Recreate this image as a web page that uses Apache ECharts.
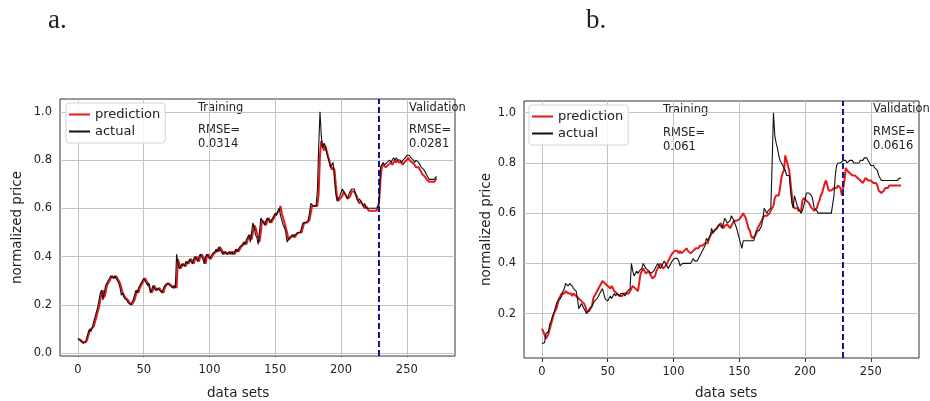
<!DOCTYPE html>
<html>
<head>
<meta charset="utf-8">
<title>prediction vs actual</title>
<script src="https://cdn.jsdelivr.net/npm/echarts@6/dist/echarts.min.js"></script>
<style>
  html, body { margin: 0; padding: 0; background: #fff; }
  #main { width: 930px; height: 401px; }
</style>
</head>
<body>
<div id="main"></div>
<script>
// x ticks / y ticks
var xTicks = [0, 50, 100, 150, 200, 250]
var yTicksA = [0, 0.2, 0.4, 0.6, 0.8, 1.0]
var yTicksB = [0.2, 0.4, 0.6, 0.8, 1.0]
// train / validation split
var splitAt = 229

// a. prediction
var aPred = [
  0.06, 0.06, 0.055, 0.05, 0.045, 0.04, 0.045, 0.055, 0.075, 0.09,
  0.10, 0.095, 0.11, 0.13, 0.15, 0.17, 0.19, 0.22, 0.25, 0.26,
  0.23, 0.25, 0.28, 0.29, 0.30, 0.31, 0.32, 0.32, 0.31, 0.32,
  0.31, 0.30, 0.29, 0.27, 0.25, 0.25, 0.23, 0.23, 0.22, 0.21,
  0.21, 0.20, 0.20, 0.22, 0.24, 0.26, 0.25, 0.27, 0.28, 0.29,
  0.30, 0.31, 0.30, 0.29, 0.28, 0.28, 0.25, 0.26, 0.28, 0.27,
  0.26, 0.26, 0.27, 0.26, 0.26, 0.25, 0.27, 0.28, 0.28, 0.29,
  0.29, 0.28, 0.28, 0.27, 0.28, 0.27, 0.39, 0.37, 0.35, 0.36,
  0.37, 0.37, 0.36, 0.38, 0.37, 0.38, 0.39, 0.38, 0.37, 0.39,
  0.40, 0.39, 0.38, 0.40, 0.41, 0.40, 0.39, 0.37, 0.40, 0.41,
  0.40, 0.39, 0.40, 0.41, 0.41, 0.42, 0.43, 0.42, 0.44, 0.43,
  0.42, 0.41, 0.42, 0.42, 0.41, 0.41, 0.42, 0.41, 0.42, 0.41,
  0.42, 0.43, 0.42, 0.43, 0.44, 0.44, 0.45, 0.46, 0.45, 0.47,
  0.48, 0.49, 0.47, 0.50, 0.53, 0.52, 0.50, 0.48, 0.46, 0.50,
  0.55, 0.55, 0.54, 0.53, 0.55, 0.56, 0.55, 0.54, 0.55, 0.56,
  0.57, 0.58, 0.58, 0.59, 0.61, 0.58, 0.56, 0.54, 0.52, 0.50,
  0.47, 0.47, 0.48, 0.48, 0.49, 0.48, 0.49, 0.49, 0.50, 0.50,
  0.50, 0.52, 0.54, 0.54, 0.54, 0.54, 0.55, 0.58, 0.61, 0.61,
  0.61, 0.61, 0.61, 0.66, 0.82, 0.88, 0.86, 0.84, 0.86, 0.84,
  0.82, 0.80, 0.78, 0.76, 0.77, 0.76, 0.70, 0.65, 0.63, 0.64,
  0.64, 0.65, 0.67, 0.66, 0.65, 0.64, 0.64, 0.65, 0.67, 0.67,
  0.67, 0.67, 0.65, 0.63, 0.62, 0.63, 0.63, 0.61, 0.60, 0.61,
  0.60, 0.59, 0.59, 0.59, 0.59, 0.59, 0.59, 0.59, 0.60, 0.63,
  0.72, 0.77, 0.78, 0.78, 0.77, 0.77, 0.78, 0.78, 0.79, 0.78,
  0.79, 0.80, 0.79, 0.80, 0.79, 0.79, 0.79, 0.78, 0.79, 0.79,
  0.80, 0.81, 0.80, 0.80, 0.79, 0.79, 0.78, 0.77, 0.77, 0.77,
  0.76, 0.75, 0.74, 0.74, 0.73, 0.72, 0.72, 0.71, 0.71, 0.71,
  0.71, 0.71, 0.72, 0.72
]
// a. actual
var aActual = [
  0.06, 0.055, 0.05, 0.045, 0.04, 0.042, 0.05, 0.07, 0.09, 0.10,
  0.09, 0.11, 0.13, 0.15, 0.17, 0.19, 0.22, 0.25, 0.26, 0.22,
  0.25, 0.28, 0.29, 0.30, 0.31, 0.32, 0.32, 0.31, 0.32, 0.31,
  0.30, 0.29, 0.27, 0.24, 0.25, 0.23, 0.23, 0.22, 0.21, 0.21,
  0.20, 0.20, 0.22, 0.24, 0.26, 0.25, 0.27, 0.28, 0.29, 0.30,
  0.31, 0.30, 0.29, 0.28, 0.29, 0.25, 0.26, 0.28, 0.27, 0.26,
  0.26, 0.27, 0.26, 0.26, 0.25, 0.27, 0.28, 0.28, 0.29, 0.29,
  0.28, 0.28, 0.27, 0.28, 0.27, 0.41, 0.37, 0.35, 0.36, 0.37,
  0.37, 0.36, 0.38, 0.37, 0.38, 0.39, 0.38, 0.37, 0.39, 0.40,
  0.39, 0.38, 0.40, 0.41, 0.40, 0.39, 0.37, 0.40, 0.41, 0.40,
  0.39, 0.40, 0.41, 0.41, 0.42, 0.43, 0.42, 0.44, 0.43, 0.42,
  0.41, 0.42, 0.42, 0.41, 0.41, 0.42, 0.41, 0.42, 0.41, 0.42,
  0.43, 0.42, 0.43, 0.44, 0.44, 0.45, 0.46, 0.45, 0.47, 0.48,
  0.49, 0.46, 0.50, 0.54, 0.52, 0.49, 0.48, 0.45, 0.50, 0.56,
  0.55, 0.54, 0.53, 0.55, 0.56, 0.55, 0.54, 0.55, 0.56, 0.57,
  0.58, 0.57, 0.59, 0.60, 0.57, 0.55, 0.53, 0.52, 0.50, 0.46,
  0.47, 0.48, 0.48, 0.49, 0.48, 0.49, 0.49, 0.50, 0.50, 0.50,
  0.52, 0.54, 0.54, 0.54, 0.54, 0.55, 0.58, 0.62, 0.62, 0.61,
  0.61, 0.61, 0.67, 0.85, 1.00, 0.90, 0.85, 0.87, 0.86, 0.83,
  0.81, 0.79, 0.77, 0.78, 0.79, 0.72, 0.66, 0.63, 0.64, 0.65,
  0.65, 0.68, 0.67, 0.66, 0.65, 0.64, 0.66, 0.67, 0.68, 0.68,
  0.68, 0.66, 0.64, 0.63, 0.64, 0.64, 0.62, 0.61, 0.62, 0.60,
  0.60, 0.60, 0.60, 0.60, 0.60, 0.60, 0.60, 0.60, 0.61, 0.62,
  0.77, 0.78, 0.79, 0.78, 0.78, 0.79, 0.79, 0.80, 0.79, 0.80,
  0.81, 0.80, 0.81, 0.80, 0.80, 0.80, 0.79, 0.80, 0.80, 0.81,
  0.82, 0.82, 0.82, 0.81, 0.81, 0.80, 0.79, 0.80, 0.80, 0.79,
  0.78, 0.77, 0.77, 0.76, 0.75, 0.74, 0.73, 0.72, 0.72, 0.72,
  0.72, 0.72, 0.73, 0.73
]
// b. prediction
var bPred = [
  0.14, 0.13, 0.13, 0.10, 0.11, 0.12, 0.14, 0.16, 0.18, 0.20,
  0.21, 0.22, 0.24, 0.26, 0.27, 0.28, 0.28, 0.28, 0.29, 0.29,
  0.28, 0.28, 0.28, 0.27, 0.28, 0.28, 0.27, 0.27, 0.26, 0.26,
  0.25, 0.25, 0.24, 0.23, 0.21, 0.21, 0.21, 0.22, 0.23, 0.26,
  0.27, 0.28, 0.29, 0.30, 0.31, 0.32, 0.33, 0.33, 0.32, 0.32,
  0.31, 0.31, 0.30, 0.31, 0.30, 0.29, 0.29, 0.28, 0.28, 0.27,
  0.27, 0.27, 0.28, 0.28, 0.28, 0.28, 0.28, 0.29, 0.30, 0.31,
  0.31, 0.30, 0.30, 0.29, 0.29, 0.36, 0.37, 0.38, 0.37, 0.36,
  0.36, 0.37, 0.36, 0.35, 0.34, 0.34, 0.35, 0.37, 0.38, 0.39,
  0.40, 0.39, 0.38, 0.38, 0.39, 0.40, 0.41, 0.42, 0.43, 0.44,
  0.44, 0.45, 0.45, 0.45, 0.44, 0.45, 0.44, 0.44, 0.45, 0.45,
  0.46, 0.45, 0.45, 0.44, 0.44, 0.45, 0.45, 0.46, 0.46, 0.46,
  0.47, 0.47, 0.47, 0.47, 0.48, 0.48, 0.48, 0.50, 0.51, 0.52,
  0.52, 0.53, 0.53, 0.54, 0.55, 0.55, 0.56, 0.55, 0.54, 0.55,
  0.55, 0.555, 0.55, 0.54, 0.55, 0.56, 0.57, 0.57, 0.57, 0.575,
  0.575, 0.58, 0.59, 0.60, 0.60, 0.58, 0.56, 0.54, 0.53, 0.51,
  0.50, 0.50, 0.51, 0.52, 0.54, 0.55, 0.56, 0.57, 0.58, 0.59,
  0.595, 0.59, 0.59, 0.60, 0.61, 0.61, 0.63, 0.66, 0.67, 0.67,
  0.67, 0.70, 0.74, 0.76, 0.77, 0.83, 0.81, 0.79, 0.77, 0.72,
  0.67, 0.63, 0.62, 0.62, 0.62, 0.61, 0.61, 0.61, 0.65, 0.66,
  0.66, 0.65, 0.65, 0.64, 0.63, 0.62, 0.62, 0.61, 0.61, 0.62,
  0.64, 0.65, 0.67, 0.68, 0.70, 0.72, 0.73, 0.71, 0.69, 0.69,
  0.69, 0.69, 0.70, 0.70, 0.70, 0.71, 0.71, 0.70, 0.67, 0.70,
  0.73, 0.78, 0.77, 0.77, 0.76, 0.76, 0.75, 0.75, 0.75, 0.75,
  0.74, 0.74, 0.73, 0.73, 0.72, 0.73, 0.74, 0.74, 0.73, 0.73,
  0.73, 0.73, 0.72, 0.72, 0.72, 0.71, 0.69, 0.69, 0.68, 0.68,
  0.69, 0.70, 0.70, 0.70, 0.71, 0.71, 0.71, 0.71, 0.71, 0.71,
  0.71, 0.71, 0.71, 0.71
]
// b. actual
var bActual = [
  0.08, 0.08, 0.085, 0.12, 0.12, 0.13, 0.16, 0.17, 0.19, 0.20,
  0.22, 0.24, 0.25, 0.25, 0.26, 0.27, 0.29, 0.30, 0.32, 0.32,
  0.31, 0.32, 0.32, 0.31, 0.30, 0.30, 0.29, 0.26, 0.22, 0.23,
  0.24, 0.23, 0.22, 0.21, 0.20, 0.21, 0.22, 0.22, 0.23, 0.24,
  0.25, 0.25, 0.26, 0.27, 0.28, 0.29, 0.30, 0.28, 0.26, 0.26,
  0.25, 0.26, 0.27, 0.26, 0.27, 0.28, 0.27, 0.28, 0.28, 0.27,
  0.28, 0.28, 0.28, 0.27, 0.28, 0.29, 0.29, 0.30, 0.40, 0.37,
  0.35, 0.36, 0.37, 0.36, 0.37, 0.37, 0.38, 0.40, 0.39, 0.38,
  0.38, 0.37, 0.37, 0.36, 0.36, 0.37, 0.38, 0.39, 0.40, 0.39,
  0.38, 0.39, 0.40, 0.41, 0.40, 0.39, 0.38, 0.39, 0.40, 0.41,
  0.41, 0.42, 0.42, 0.42, 0.41, 0.39, 0.39, 0.40, 0.40, 0.40,
  0.40, 0.40, 0.40, 0.40, 0.41, 0.42, 0.41, 0.41, 0.41, 0.42,
  0.43, 0.44, 0.45, 0.45, 0.47, 0.50, 0.49, 0.49, 0.51, 0.54,
  0.52, 0.53, 0.53, 0.54, 0.54, 0.555, 0.55, 0.54, 0.56, 0.58,
  0.57, 0.56, 0.555, 0.57, 0.59, 0.58, 0.57, 0.575, 0.54, 0.52,
  0.50, 0.48, 0.46, 0.49, 0.49, 0.49, 0.49, 0.49, 0.49, 0.49,
  0.49, 0.49, 0.51, 0.53, 0.53, 0.53, 0.53, 0.55, 0.58, 0.62,
  0.61, 0.60, 0.61, 0.61, 0.62, 0.80, 1.00, 0.91, 0.88, 0.86,
  0.83, 0.81, 0.80, 0.79, 0.78, 0.77, 0.75, 0.75, 0.75, 0.69,
  0.64, 0.62, 0.67, 0.65, 0.63, 0.62, 0.61, 0.60, 0.61, 0.63,
  0.65, 0.68, 0.68, 0.68, 0.68, 0.67, 0.65, 0.62, 0.62, 0.61,
  0.60, 0.60, 0.60, 0.60, 0.60, 0.60, 0.60, 0.60, 0.60, 0.60,
  0.60, 0.60, 0.67, 0.75, 0.79, 0.80, 0.80, 0.80, 0.80, 0.81,
  0.81, 0.81, 0.80, 0.80, 0.81, 0.81, 0.81, 0.80, 0.80, 0.80,
  0.80, 0.80, 0.81, 0.81, 0.81, 0.82, 0.82, 0.82, 0.81, 0.80,
  0.79, 0.79, 0.79, 0.78, 0.78, 0.77, 0.75, 0.74, 0.73, 0.73,
  0.73, 0.73, 0.73, 0.73, 0.73, 0.73, 0.73, 0.73, 0.73, 0.73,
  0.73, 0.73, 0.74, 0.74
]

var RED = '#e3191c'
var BLACK = '#111111'
var GRID_GRAY = '#c4c4c4'
var TICK_FONT = 11.5
var SANS = 'DejaVu Sans'

// index -> [x, y]
function toPairs(arr) {
  return arr.map(function (v, i) { return [i, v] })
}

function makeXAxis(gridIndex) {
  return {
    type: 'value',
    gridIndex: gridIndex,
    min: -13.65,
    max: 286.65,
    axisLine: { show: false },
    axisTick: { show: true, length: 4, customValues: xTicks, lineStyle: { color: '#333' } },
    axisLabel: { customValues: xTicks, margin: 8, color: '#222', fontSize: TICK_FONT, fontFamily: SANS },
    splitLine: { show: false }
  }
}

function makeYAxis(gridIndex, min, max, ticks, nameGap) {
  return {
    type: 'value',
    gridIndex: gridIndex,
    min: min,
    max: max,
    name: 'normalized price',
    nameLocation: 'middle',
    nameGap: nameGap,
    nameTextStyle: { fontSize: 13.5, color: '#222', fontFamily: SANS },
    axisLine: { show: false },
    axisTick: { show: true, length: 4, customValues: ticks, lineStyle: { color: '#333' } },
    axisLabel: {
      customValues: ticks,
      margin: 8,
      color: '#222',
      fontSize: TICK_FONT,
      fontFamily: SANS,
      formatter: function (v) { return v.toFixed(1) }
    },
    splitLine: { show: false }
  }
}

function makeLegend(left, top) {
  return {
    left: left,
    top: top,
    orient: 'vertical',
    data: ['prediction', 'actual'],
    icon: 'rect',
    itemWidth: 21,
    itemHeight: 2,
    itemGap: 4,
    padding: [5, 5, 5, 3],
    borderColor: '#d4d4d4',
    borderWidth: 1,
    borderRadius: 3,
    backgroundColor: 'rgba(255,255,255,0.85)',
    textStyle: { fontSize: 13, color: '#222', fontFamily: SANS }
  }
}

// grid lines at the tick values (drawn under the curves)
function gridLines(yTicks) {
  var d = []
  xTicks.forEach(function (v) { d.push({ xAxis: v }) })
  yTicks.forEach(function (v) { d.push({ yAxis: v }) })
  return {
    silent: true,
    z: 1,
    symbol: ['none', 'none'],
    label: { show: false },
    lineStyle: { color: GRID_GRAY, width: 1, type: 'solid' },
    data: d
  }
}

function makeSeries(name, data, idx, color, width, markLine) {
  var s = {
    name: name,
    type: 'line',
    xAxisIndex: idx,
    yAxisIndex: idx,
    data: toPairs(data),
    showSymbol: false,
    symbol: 'none',
    lineStyle: { color: color, width: width },
    itemStyle: { color: color },
    animation: false
  }
  if (markLine) s.markLine = markLine
  return s
}

// dashed train/validation split
var splitLine = {
  silent: true,
  symbol: ['none', 'none'],
  label: { show: false },
  lineStyle: { color: '#16168c', width: 2, type: [6, 3] },
  data: [{ xAxis: splitAt }]
}

// text on the figure
function txt(x, y, text, font) {
  return {
    type: 'text',
    x: x,
    y: y,
    silent: true,
    style: { text: text, font: font || ('11.5px "' + SANS + '"'), fill: '#222', verticalAlign: 'middle' }
  }
}

var option = {
  animation: false,
  backgroundColor: '#fff',
  grid: [
    { left: 60, top: 99, width: 395, height: 257, show: true, borderColor: '#333', borderWidth: 1 },
    { left: 524, top: 101, width: 395, height: 257, show: true, borderColor: '#333', borderWidth: 1 }
  ],
  xAxis: [makeXAxis(0), makeXAxis(1)],
  yAxis: [
    makeYAxis(0, -0.012, 1.053, yTicksA, 36),
    makeYAxis(1, 0.0235, 1.0465, yTicksB, 31)
  ],
  legend: [makeLegend(66, 103), makeLegend(529, 105)],
  series: [
    makeSeries('prediction', aPred, 0, RED, 2, gridLines(yTicksA)),
    makeSeries('actual', aActual, 0, BLACK, 1.1, splitLine),
    makeSeries('prediction', bPred, 1, RED, 2, gridLines(yTicksB)),
    makeSeries('actual', bActual, 1, BLACK, 1.1, splitLine)
  ],
  graphic: [
    txt(48, 21, 'a.', '27px "Liberation Serif"'),
    txt(586, 21, 'b.', '27px "Liberation Serif"'),
    txt(198, 108, 'Training'),
    txt(198, 130, 'RMSE='),
    txt(198, 144, '0.0314'),
    txt(409, 108, 'Validation'),
    txt(409, 130, 'RMSE='),
    txt(409, 144, '0.0281'),
    txt(663, 110, 'Training'),
    txt(663, 133, 'RMSE='),
    txt(663, 147, '0.061'),
    txt(873, 109, 'Validation'),
    txt(873, 132.5, 'RMSE='),
    txt(873, 146.5, '0.0616'),
    txt(207, 393, 'data sets', '13.5px "' + SANS + '"'),
    txt(695, 393, 'data sets', '13.5px "' + SANS + '"')
  ]
}

var myChart = echarts.init(document.getElementById('main'), null, { renderer: 'canvas' })
myChart.setOption(option)
</script>
</body>
</html>
